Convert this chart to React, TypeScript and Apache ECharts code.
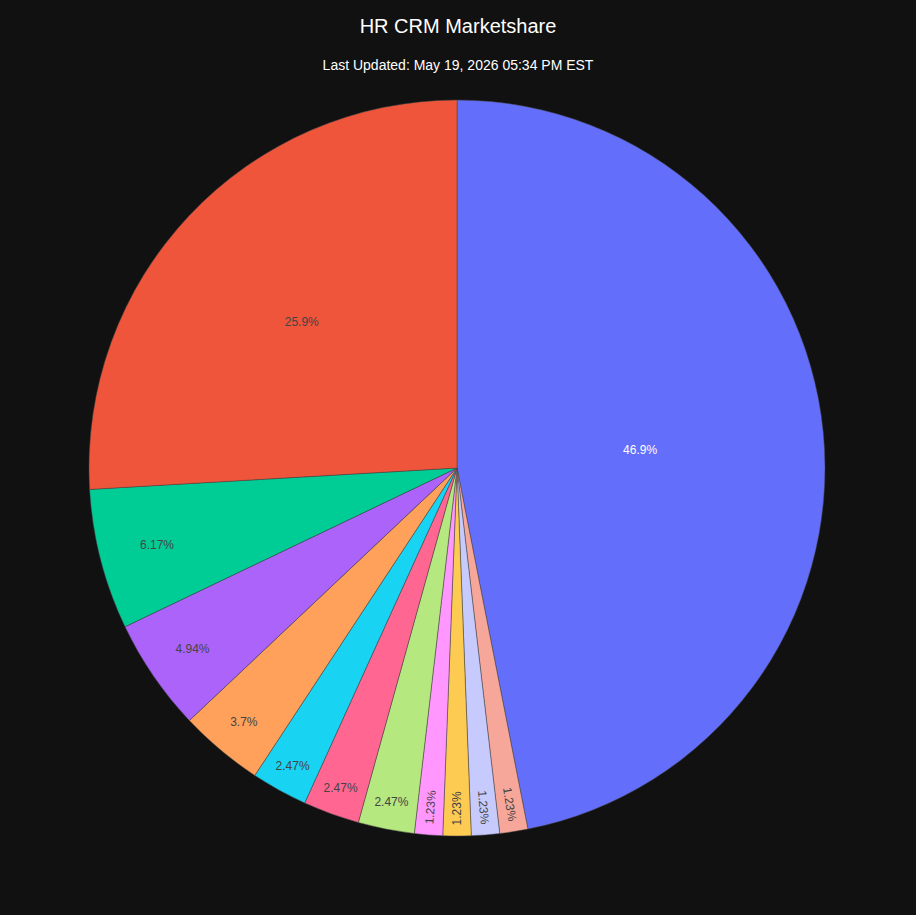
import React, { useEffect, useRef } from "react";
import * as echarts from "echarts";

// Slices listed clockwise from 12 o'clock (counts; shares are count / total)
const vendors = [
  "Vendor A", "Vendor B", "Vendor C", "Vendor D", "Vendor E", "Vendor F",
  "Vendor G", "Vendor H", "Vendor I", "Vendor J", "Vendor K", "Vendor L",
];
const counts = [38, 1, 1, 1, 1, 2, 2, 2, 3, 4, 5, 21];
const sliceColors = [
  "#636efa", "#f7a799", "#c6cafd", "#fecb52", "#ff97ff", "#b6e880",
  "#ff6692", "#19d3f3", "#ffa15a", "#ab63fa", "#00cc96", "#ef553b",
];
const titleText = "HR CRM Marketshare";
const subtitleText = "Last Updated: May 19, 2026 05:34 PM EST";

const CX = 457;
const CY = 468;
const R = 368;

export default function App() {
  const ref = useRef<HTMLDivElement>(null);
  useEffect(() => {
    document.body.style.margin = "0";
    document.body.style.background = "#111111";
    if (!ref.current) return;
    const chart = echarts.init(ref.current, null, { renderer: "svg" });
    const total = counts.reduce((a, b) => a + b, 0);
    const shares = counts.map((c) => c / total);
    const cum: number[] = [];
    let acc = 0;
    shares.forEach((s) => {
      cum.push(acc);
      acc += s;
    });
    const fmt = (s: number) => Number((s * 100).toPrecision(3)).toString() + "%";
    const radiusFrac = (s: number) => {
      if (s >= 0.4) return 0.5;
      if (s >= 0.2) return 0.58;
      return Math.min(0.925, 0.93 - (s - 0.025) * 2.4);
    };
    const data = counts.map((c, i) => ({
      name: vendors[i],
      value: c,
      itemStyle: { color: sliceColors[i] },
      label: {
        color: i === 0 ? "#ffffff" : "#444444",
      },
    }));
    chart.setOption({
      animation: false,
      backgroundColor: "#111111",
      title: [
        {
          text: titleText,
          left: "center",
          top: 16,
          padding: 0,
          textStyle: {
            color: "#ffffff",
            fontSize: 20,
            fontWeight: "normal",
            fontFamily: "Liberation Sans, Arial, sans-serif",
          },
        },
        {
          text: subtitleText,
          left: "center",
          top: 58,
          padding: 0,
          textStyle: {
            color: "#ffffff",
            fontSize: 14,
            fontWeight: "normal",
            fontFamily: "Liberation Sans, Arial, sans-serif",
          },
        },
      ],
      series: [
        {
          type: "pie",
          center: [CX, CY],
          radius: [0, R],
          startAngle: 90,
          clockwise: true,
          avoidLabelOverlap: false,
          data,
          itemStyle: { borderColor: "#444444", borderWidth: 0.5 },
          label: {
            show: true,
            position: "inside",
            fontSize: 12,
            fontFamily: "Liberation Sans, Arial, sans-serif",
            formatter: (p: any) => fmt(shares[p.dataIndex]),
          },
          labelLine: { show: false },
          emphasis: { disabled: true },
          labelLayout: (p: any) => {
            const i = p.dataIndex;
            const s = shares[i];
            const theta = (cum[i] + s / 2) * Math.PI * 2;
            const f = radiusFrac(s);
            const x = CX + R * f * Math.sin(theta);
            const y = CY - R * f * Math.cos(theta);
            let rotate = 0;
            if (s < 0.02) {
              const ox = Math.sin(theta);
              const oy = -Math.cos(theta);
              const outward = theta < Math.PI - 1e-6;
              const dx = outward ? ox : -ox;
              const dy = outward ? oy : -oy;
              rotate = (Math.atan2(-dy, dx) * 180) / Math.PI;
            }
            return { x, y, rotate, align: "center", verticalAlign: "middle" };
          },
        },
      ],
    });
    return () => chart.dispose();
  }, []);
  return <div ref={ref} style={{ width: 916, height: 915 }} />;
}
